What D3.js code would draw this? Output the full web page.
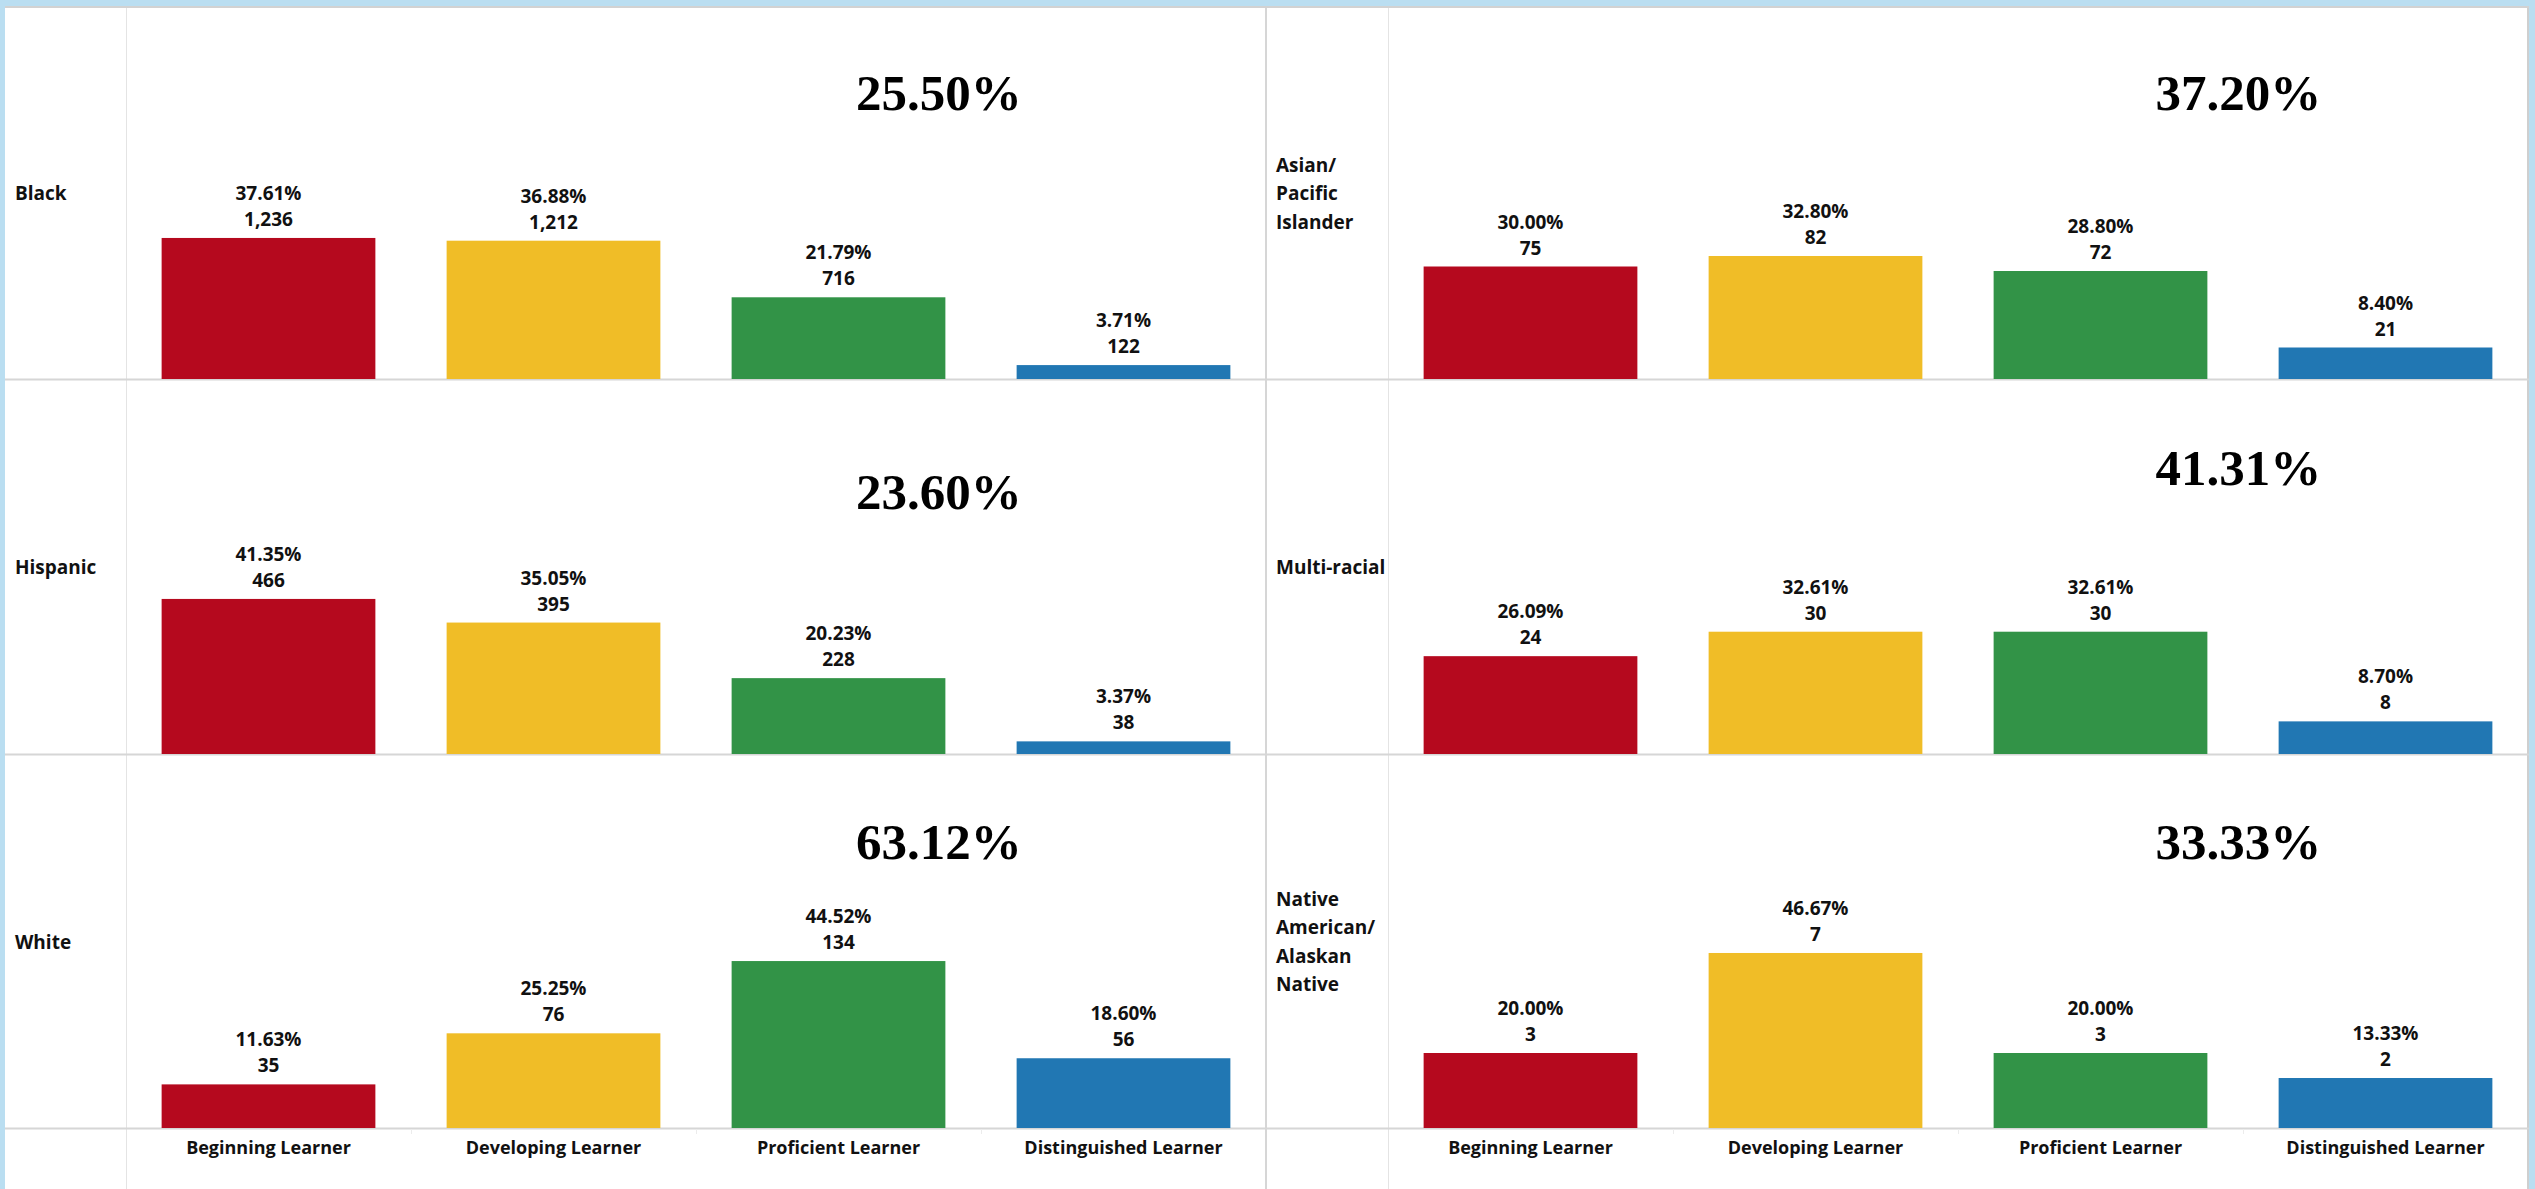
<!DOCTYPE html>
<html>
<head>
<meta charset="utf-8">
<script src="https://cdn.jsdelivr.net/npm/d3@7"></script>
<style>
  html, body { margin: 0; padding: 0; background: #badef1; overflow: hidden; }
  text { font-family: "Open Sans", "DejaVu Sans", sans-serif; }
</style>
</head>
<body>
<script>
// data
var levels = ["Beginning Learner", "Developing Learner", "Proficient Learner", "Distinguished Learner"];
var groups = ["Black", "Asian/Pacific Islander", "Hispanic", "Multi-racial", "White", "Native American/Alaskan Native"];
var groupLines = [["Black"], ["Asian/", "Pacific", "Islander"], ["Hispanic"], ["Multi-racial"], ["White"], ["Native", "American/", "Alaskan", "Native"]];
var pctValues = [
  [37.61, 36.88, 21.79, 3.71],
  [30.00, 32.80, 28.80, 8.40],
  [41.35, 35.05, 20.23, 3.37],
  [26.09, 32.61, 32.61, 8.70],
  [11.63, 25.25, 44.52, 18.60],
  [20.00, 46.67, 20.00, 13.33]
];
var countValues = [
  [1236, 1212, 716, 122],
  [75, 82, 72, 21],
  [466, 395, 228, 38],
  [24, 30, 30, 8],
  [35, 76, 134, 56],
  [3, 7, 3, 2]
];
var groupTotals = [25.50, 37.20, 23.60, 41.31, 63.12, 33.33];
var levelColors = ["#b5091e", "#f0bd27", "#329347", "#2177b3"];

//layout
var width = 2535, height = 1189;
var frameLeft = 5, frameTop = 6, frameRight = 2529;
var rowLines = [379, 754, 1128];
var rowTops = [7, 380, 755];
var panelHeader = [[5, 126], [1266, 1388]];
var panelChart = [[126, 1266], [1388, 2528]];
var bigLabelX = [0.713, 0.746];
var bigLabelNudge = {"Hispanic": 24};
var lineColor = "#d6d6d6";
var softLineColor = "#e4e4e4";
var labelSize = 19;

var svg = d3.select("body").append("svg")
    .attr("width", width)
    .attr("height", height);

svg.append("rect")
    .attr("x", 0).attr("y", 0)
    .attr("width", width).attr("height", height)
    .attr("fill", "#badef1");

svg.append("rect")
    .attr("x", frameLeft).attr("y", frameTop)
    .attr("width", frameRight - frameLeft).attr("height", height - frameTop)
    .attr("fill", "#fff");

var yScale = d3.scaleLinear().domain([0, 100]).range([0, 375]);

// grid lines
var grid = svg.append("g").attr("class", "grid");
[126, 1388].forEach(function (gx) {
    grid.append("line")
        .attr("x1", gx + 0.5).attr("x2", gx + 0.5)
        .attr("y1", frameTop).attr("y2", height)
        .attr("stroke", softLineColor).attr("stroke-width", 1);
});
grid.append("line")
    .attr("x1", 1266).attr("x2", 1266)
    .attr("y1", frameTop).attr("y2", height)
    .attr("stroke", lineColor).attr("stroke-width", 2);
grid.append("line")
    .attr("x1", frameRight - 1).attr("x2", frameRight - 1)
    .attr("y1", frameTop).attr("y2", height)
    .attr("stroke", "#cfcfcf").attr("stroke-width", 2);
grid.append("line")
    .attr("x1", frameLeft).attr("x2", frameRight)
    .attr("y1", frameTop + 1).attr("y2", frameTop + 1)
    .attr("stroke", "#d2d2d2").attr("stroke-width", 2);
rowLines.forEach(function (ly) {
    grid.append("line")
        .attr("x1", frameLeft).attr("x2", frameRight)
        .attr("y1", ly + 0.5).attr("y2", ly + 0.5)
        .attr("stroke", lineColor).attr("stroke-width", 2);
});

function drawPanel(p) {
    var xScale = d3.scaleBand()
        .domain(levels)
        .range(panelChart[p])
        .paddingInner(0.25)
        .paddingOuter(0.125);

    // small separators under the baseline
    levels.slice(1).forEach(function (lv) {
        var bx = xScale(lv) - xScale.step() * xScale.paddingInner() / 2;
        grid.append("line")
            .attr("x1", bx + 0.5).attr("x2", bx + 0.5)
            .attr("y1", rowLines[2] + 1).attr("y2", rowLines[2] + 6)
            .attr("stroke", "#ececec");
    });

    // bottom axis
    var axis = d3.axisBottom(xScale).tickSize(0).tickPadding(0);
    var axisG = svg.append("g")
        .attr("transform", "translate(0," + (rowLines[2] + 26) + ")")
        .call(axis);
    axisG.select(".domain").remove();
    axisG.selectAll("text")
        .attr("dy", 0)
        .style("font-family", "'Open Sans', sans-serif")
        .style("font-size", "18px")
        .style("font-weight", "bold")
        .attr("fill", "#111");

    for (var r = 0; r < 3; r++) {
        drawCell(p, r, xScale);
    }
}

function drawCell(p, r, xScale) {
    var gi = r * 2 + p;
    var rowTop = rowTops[r];
    var base = rowLines[r];
    var rowMid = (rowTop + base) / 2;

    var g = svg.append("g").attr("class", "panel");

    // row header
    var hx = panelHeader[p][0] + 10;
    var hdr = g.append("text")
        .attr("font-size", labelSize)
        .attr("font-weight", "bold")
        .attr("fill", "#111");
    var lines = groupLines[gi];
    lines.forEach(function (t, i) {
        hdr.append("tspan")
            .attr("x", hx)
            .attr("y", rowMid + 7 + (i - (lines.length - 1) / 2) * 28.5)
            .text(t);
    });

    var rows = levels.map(function (lv, i) {
        return {level: lv, pct: pctValues[gi][i], count: countValues[gi][i], color: levelColors[i]};
    });

    g.selectAll("rect.bar")
        .data(rows)
        .enter().append("rect")
        .attr("class", "bar")
        .attr("x", function (d) { return xScale(d.level); })
        .attr("width", xScale.bandwidth())
        .attr("y", function (d) { return base - yScale(d.pct); })
        .attr("height", function (d) { return yScale(d.pct); })
        .attr("fill", function (d) { return d.color; });

    g.selectAll("text.pct")
        .data(rows)
        .enter().append("text")
        .attr("class", "pct")
        .attr("x", function (d) { return xScale(d.level) + xScale.bandwidth() / 2; })
        .attr("y", function (d) { return base - yScale(d.pct) - 38; })
        .attr("text-anchor", "middle")
        .attr("font-size", labelSize)
        .attr("font-weight", "bold")
        .attr("fill", "#111")
        .text(function (d) { return d.pct.toFixed(2) + "%"; });

    g.selectAll("text.cnt")
        .data(rows)
        .enter().append("text")
        .attr("class", "cnt")
        .attr("x", function (d) { return xScale(d.level) + xScale.bandwidth() / 2; })
        .attr("y", function (d) { return base - yScale(d.pct) - 12; })
        .attr("text-anchor", "middle")
        .attr("font-size", labelSize)
        .attr("font-weight", "bold")
        .attr("fill", "#111")
        .text(function (d) { return d3.format(",")(d.count); });

    // big total percentage
    var c0 = panelChart[p][0], c1 = panelChart[p][1];
    g.append("text")
        .attr("x", c0 + (c1 - c0) * bigLabelX[p])
        .attr("y", base - 269 + (bigLabelNudge[groups[gi]] || 0))
        .attr("text-anchor", "middle")
        .style("font-family", "'Liberation Serif', 'Times New Roman', serif")
        .attr("font-size", 51)
        .attr("font-weight", "bold")
        .attr("fill", "#000")
        .text(groupTotals[gi].toFixed(2) + "%");
}

drawPanel(0);
drawPanel(1);
</script>
</body>
</html>
